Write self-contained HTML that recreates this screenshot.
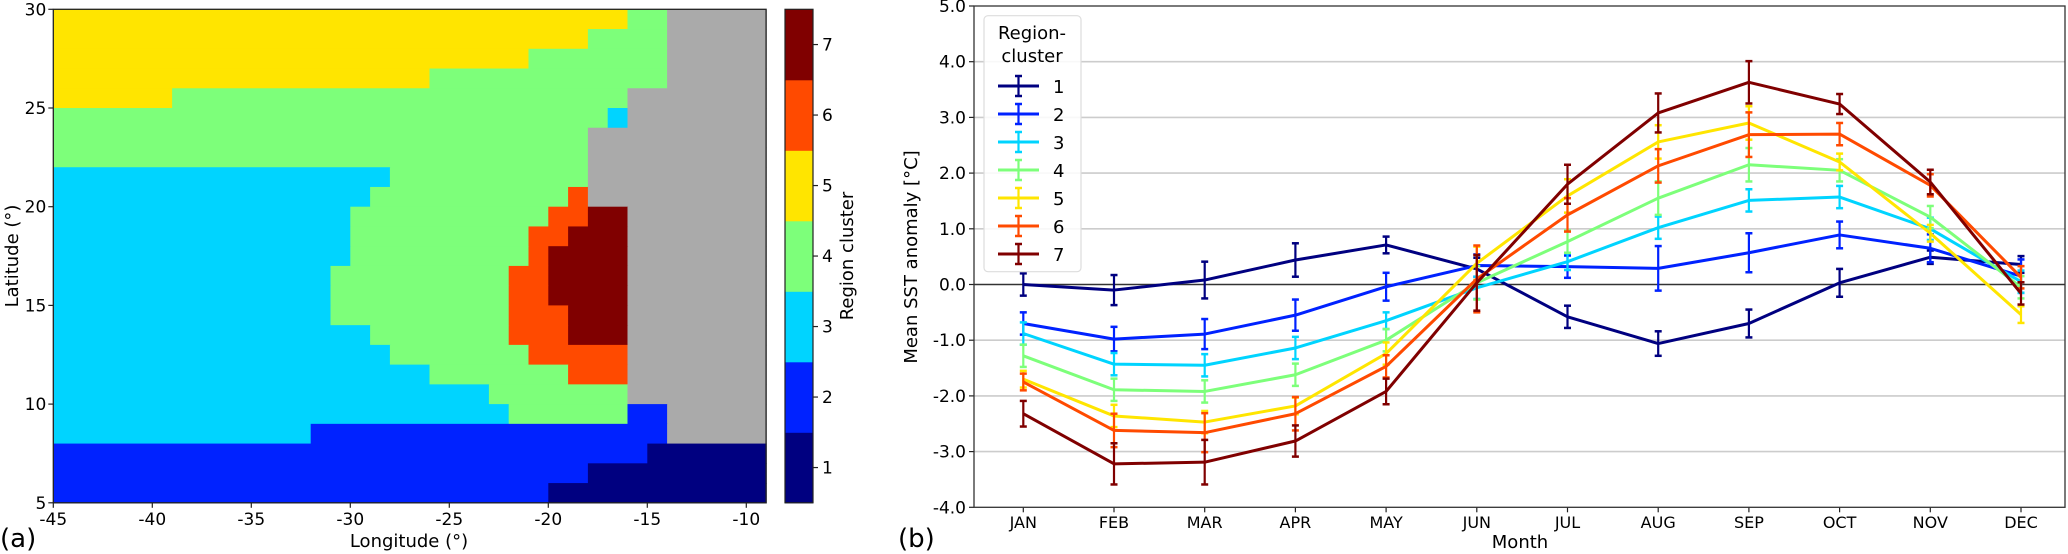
<!DOCTYPE html>
<html><head><meta charset="utf-8"><style>
html,body{margin:0;padding:0;background:#fff;overflow:hidden;}
svg{display:block;font-family:"DejaVu Sans","Liberation Sans",sans-serif;}
</style></head><body>
<svg id="root" width="2068" height="554" viewBox="0 0 2068 554" xmlns="http://www.w3.org/2000/svg">
<g id="mapg"></g>
<g id="chartg"></g>
<text x="409" y="547" font-size="18" text-anchor="middle">Longitude (°)</text>
<text x="18" y="256" font-size="18" text-anchor="middle" transform="rotate(-90 18 256)">Latitude (°)</text>
<text x="853" y="256" font-size="18" text-anchor="middle" transform="rotate(-90 853 256)">Region cluster</text>
<text x="0" y="547" font-size="26">(a)</text>
<text x="1520" y="548" font-size="18" text-anchor="middle">Month</text>
<text x="917" y="257" font-size="18" text-anchor="middle" transform="rotate(-90 917 257)">Mean SST anomaly [°C]</text>
<text x="898" y="547" font-size="26">(b)</text>
</svg>
<script>
// ---------- Map data ----------
const mapRows = [
 [[5,29],[4,31],[0,36]],
 [[5,27],[4,31],[0,36]],
 [[5,24],[4,31],[0,36]],
 [[5,19],[4,31],[0,36]],
 [[5,6],[4,29],[0,36]],
 [[4,28],[3,29],[0,36]],
 [[4,27],[0,36]],
 [[4,27],[0,36]],
 [[3,17],[4,27],[0,36]],
 [[3,16],[4,26],[6,27],[0,36]],
 [[3,15],[4,25],[6,27],[7,29],[0,36]],
 [[3,15],[4,24],[6,26],[7,29],[0,36]],
 [[3,15],[4,24],[6,25],[7,29],[0,36]],
 [[3,14],[4,23],[6,25],[7,29],[0,36]],
 [[3,14],[4,23],[6,25],[7,29],[0,36]],
 [[3,14],[4,23],[6,26],[7,29],[0,36]],
 [[3,16],[4,23],[6,26],[7,29],[0,36]],
 [[3,17],[4,24],[6,29],[0,36]],
 [[3,19],[4,26],[6,29],[0,36]],
 [[3,22],[4,29],[0,36]],
 [[3,23],[4,29],[2,31],[0,36]],
 [[3,13],[2,31],[0,36]],
 [[2,30],[1,36]],
 [[2,27],[1,36]],
 [[2,25],[1,36]]
];
const lonTicks = [-45,-40,-35,-30,-25,-20,-15,-10];
const latTicks = [5,10,15,20,25,30];
const cbTicks = [1,2,3,4,5,6,7];

// ---------- Chart data ----------
const months = ["JAN","FEB","MAR","APR","MAY","JUN","JUL","AUG","SEP","OCT","NOV","DEC"];
const yTicks = [-4,-3,-2,-1,0,1,2,3,4,5];
const s1 = [0.0,-0.1,0.08,0.44,0.71,0.28,-0.58,-1.06,-0.70,0.03,0.49,0.36];
const e1 = [0.2,0.27,0.33,0.3,0.15,0.2,0.2,0.22,0.25,0.25,0.12,0.15];
const s2 = [-0.7,-0.98,-0.89,-0.55,-0.04,0.34,0.32,0.29,0.57,0.89,0.65,0.15];
const e2 = [0.2,0.22,0.27,0.28,0.25,0.2,0.2,0.4,0.35,0.24,0.25,0.3];
const s3 = [-0.88,-1.43,-1.45,-1.14,-0.65,-0.06,0.41,1.02,1.51,1.57,1.0,0.05];
const e3 = [0.2,0.2,0.2,0.2,0.15,0.2,0.15,0.2,0.2,0.2,0.2,0.2];
const s4 = [-1.28,-1.89,-1.92,-1.62,-1.0,0.03,0.77,1.55,2.15,2.05,1.21,-0.05];
const e4 = [0.2,0.2,0.2,0.2,0.2,0.3,0.2,0.3,0.3,0.2,0.2,0.2];
const s5 = [-1.7,-2.36,-2.47,-2.18,-1.24,0.38,1.59,2.56,2.9,2.2,0.92,-0.54];
const e5 = [0.15,0.2,0.2,0.15,0.2,0.3,0.3,0.3,0.3,0.15,0.15,0.15];
const s6 = [-1.75,-2.62,-2.66,-2.32,-1.47,0.1,1.25,2.13,2.69,2.70,1.78,0.13];
const e6 = [0.15,0.3,0.35,0.3,0.2,0.6,0.3,0.3,0.4,0.2,0.2,0.2];
const s7 = [-2.32,-3.22,-3.19,-2.81,-1.92,0.03,1.8,3.08,3.63,3.24,1.84,-0.16];
const e7 = [0.23,0.37,0.4,0.28,0.23,0.5,0.35,0.35,0.38,0.18,0.22,0.2];

const colors = {0:"#aaaaaa",1:"#000080",2:"#0022ff",3:"#00d4ff",4:"#7dff7a",5:"#ffe500",6:"#ff4a00",7:"#800000"};
const NS="http://www.w3.org/2000/svg";
function mk(tag, attrs, parent){const e=document.createElementNS(NS,tag);for(const k in attrs)e.setAttribute(k,attrs[k]);parent.appendChild(e);return e;}

// ---------- Map ----------
const mapg=document.getElementById('mapg');
const MX0=53.3, MW=712.8, MY0=9.3, MH=493.5;
const cw=MW/36, ch=MH/25;
const lonX=v=>MX0+(v+45)*cw;
const latY=v=>MY0+(30-v)*ch;
mapRows.forEach((row,r)=>{
  let c0=0;
  row.forEach(seg=>{
    const rect=mk('rect',{x:MX0+c0*cw,y:MY0+r*ch,width:(seg[1]-c0)*cw+0.6,height:ch+0.6,fill:colors[seg[0]]},mapg);
    
    
    c0=seg[1];
  });
});
const mframe=mk('rect',{x:MX0,y:MY0,width:MW,height:MH,fill:'none',stroke:'#222','stroke-width':1.3},mapg);


lonTicks.forEach(v=>{
  const x=lonX(v);
  mk('line',{x1:x,x2:x,y1:MY0+MH,y2:MY0+MH+5,stroke:'#222','stroke-width':1.2},mapg);
  const t=mk('text',{x:x,y:525,'font-size':17,'text-anchor':'middle'},mapg);
  t.textContent=v;
  
  
});
latTicks.forEach(v=>{
  const y=latY(v);
  mk('line',{x1:MX0-5,x2:MX0,y1:y,y2:y,stroke:'#222','stroke-width':1.2},mapg);
  const t=mk('text',{x:MX0-7,y:y+6,'font-size':17,'text-anchor':'end'},mapg);
  t.textContent=v;
  
  
});
const CBX=785, CBW=28, cbh=MH/7;
for(let k=1;k<=7;k++){
  const r=mk('rect',{x:CBX,y:MY0+(7-k)*cbh,width:CBW,height:cbh+0.5,fill:colors[k]},mapg);
  
  
}
mk('rect',{x:CBX,y:MY0,width:CBW,height:MH,fill:'none',stroke:'#222','stroke-width':1.2},mapg);
cbTicks.forEach(v=>{
  const y=MY0+(7.5-v)*cbh;
  mk('line',{x1:CBX+CBW,x2:CBX+CBW+5,y1:y,y2:y,stroke:'#222','stroke-width':1.2},mapg);
  const t=mk('text',{x:CBX+CBW+9,y:y+6,'font-size':17},mapg);
  t.textContent=v;
  
  
});

// ---------- Chart ----------
const cg=document.getElementById('chartg');
const CX0=974, CX1=2065, CY0=6, CY1=507.3;
const PU=(CY1-CY0)/9;
const yS=v=>CY0+(5-v)*PU;
const xS=i=>1023.3+i*90.7;
yTicks.forEach(v=>{
  const y=yS(v);
  if(v!==5 && v!==-4 && v!==0){const g=mk('line',{x1:CX0,x2:CX1,y1:y,y2:y,stroke:'#cccccc','stroke-width':1.6},cg);
    }
  mk('line',{x1:CX0-5,x2:CX0,y1:y,y2:y,stroke:'#222','stroke-width':1.2},cg);
  const t=mk('text',{x:CX0-8,y:y+6,'font-size':17,'text-anchor':'end'},cg);
  t.textContent=v.toFixed(1);
  
  
});
const zl=mk('line',{x1:CX0,x2:CX1,y1:yS(0),y2:yS(0),stroke:'#333','stroke-width':1.6},cg);


months.forEach((m,i)=>{
  const x=xS(i);
  mk('line',{x1:x,x2:x,y1:CY1,y2:CY1+5,stroke:'#222','stroke-width':1.2},cg);
  const t=mk('text',{x:x,y:528,'font-size':16,'text-anchor':'middle'},cg);
  t.textContent=m;
  
  
});
const series=[[s1,e1],[s2,e2],[s3,e3],[s4,e4],[s5,e5],[s6,e6],[s7,e7]];
series.forEach((se,k)=>{
  const col=colors[k+1];
  const g=mk('g',{},cg);
  
  
  const pts=se[0].map((v,i)=>xS(i)+','+yS(v)).join(' ');
  mk('polyline',{points:pts,fill:'none',stroke:col,'stroke-width':3,'stroke-linejoin':'round'},g);
  se[0].forEach((v,i)=>{
    const x=xS(i), ya=yS(v+se[1][i]), yb=yS(v-se[1][i]);
    mk('line',{x1:x,x2:x,y1:ya,y2:yb,stroke:col,'stroke-width':2.2},g);
    mk('line',{x1:x-3.5,x2:x+3.5,y1:ya,y2:ya,stroke:col,'stroke-width':2.5},g);
    mk('line',{x1:x-3.5,x2:x+3.5,y1:yb,y2:yb,stroke:col,'stroke-width':2.5},g);
  });
});
const fr=mk('rect',{x:CX0,y:CY0,width:CX1-CX0,height:CY1-CY0,fill:'none',stroke:'#333','stroke-width':1.3},cg);


const lg=mk('g',{},cg);


mk('rect',{x:984,y:15.7,width:97,height:256,rx:4,fill:'#fff','fill-opacity':0.85,stroke:'#dddddd','stroke-width':1.2},lg);
const t1=mk('text',{x:1032,y:39,'font-size':18,'text-anchor':'middle'},lg);t1.textContent='Region-';
const t2=mk('text',{x:1032,y:62,'font-size':18,'text-anchor':'middle'},lg);t2.textContent='cluster';
for(let k=0;k<7;k++){
  const y=86+k*28, col=colors[k+1];
  const e=mk('g',{},lg);
  
  
  mk('line',{x1:998,x2:1039,y1:y,y2:y,stroke:col,'stroke-width':3},e);
  mk('line',{x1:1018.5,x2:1018.5,y1:y-10,y2:y+10,stroke:col,'stroke-width':2.2},e);
  mk('line',{x1:1015,x2:1022,y1:y-10,y2:y-10,stroke:col,'stroke-width':2.5},e);
  mk('line',{x1:1015,x2:1022,y1:y+10,y2:y+10,stroke:col,'stroke-width':2.5},e);
  const t=mk('text',{x:1053,y:y+7,'font-size':18},e);t.textContent=(k+1);
}
</script>
</body></html>
